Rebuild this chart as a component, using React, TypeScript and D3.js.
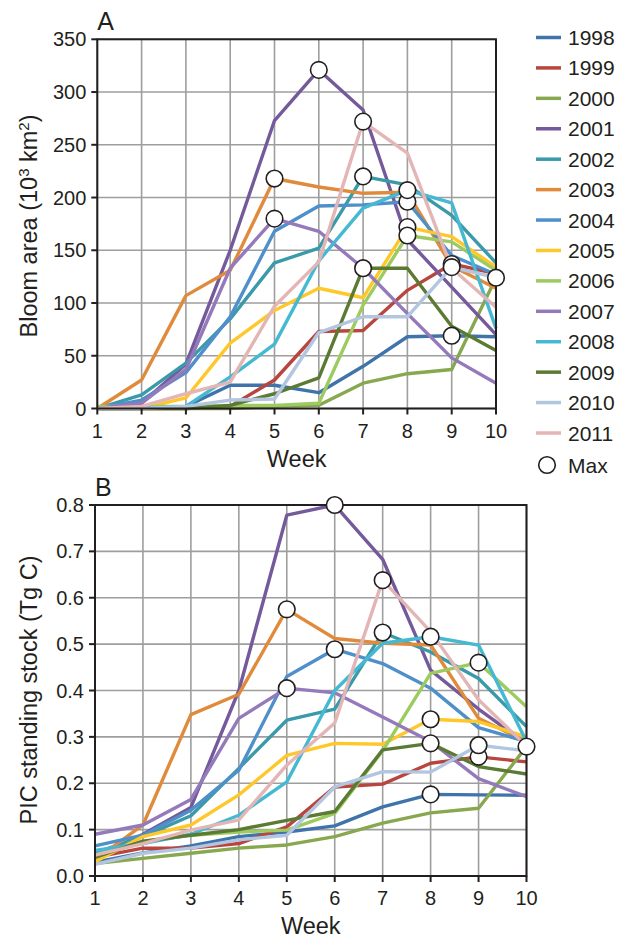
import React from "react";
import * as d3 from "d3";

const weeks = [1, 2, 3, 4, 5, 6, 7, 8, 9, 10];
const years = ["1998", "1999", "2000", "2001", "2002", "2003", "2004", "2005", "2006", "2007", "2008", "2009", "2010", "2011"];
const colors = ["#3f74aa", "#b9453f", "#87a84f", "#745a9b", "#3a9aa9", "#e08b3b", "#4f8fca", "#ffc82a", "#9dcb60", "#9479bb", "#45b9d2", "#5b7a33", "#b3c6df", "#e3b6b5"];

// Panel A: bloom area (10^3 km^2)
const bloom1998 = [0, 0, 2, 22, 22, 15, 40, 68, 69, 68];
const bloom1999 = [0, 0, 0, 2, 27, 73, 74, 112, 137, 128];
const bloom2000 = [0, 0, 0, 0, 2, 3, 24, 33, 37, 124];
const bloom2001 = [0, 5, 42, 150, 273, 321, 283, 160, 115, 70];
const bloom2002 = [0, 13, 43, 85, 138, 152, 220, 212, 183, 138];
const bloom2003 = [0, 27, 107, 131, 218, 210, 204, 205, 135, 114];
const bloom2004 = [0, 8, 34, 87, 168, 192, 193, 196, 145, 127];
const bloom2005 = [0, 0, 10, 62, 93, 114, 105, 172, 163, 134];
const bloom2006 = [2, 2, 2, 3, 3, 5, 98, 164, 158, 131];
const bloom2007 = [0, 5, 37, 133, 180, 168, 133, 90, 48, 24];
const bloom2008 = [0, 0, 2, 30, 61, 140, 190, 207, 195, 76];
const bloom2009 = [0, 0, 0, 3, 14, 29, 133, 133, 78, 55];
const bloom2010 = [0, 0, 2, 8, 9, 72, 87, 87, 134, 124];
const bloom2011 = [0, 2, 14, 25, 97, 139, 272, 242, 133, 96];

// Panel B: PIC standing stock (Tg C)
const pic1998 = [0.03, 0.05, 0.065, 0.085, 0.095, 0.108, 0.149, 0.176, 0.175, 0.174];
const pic1999 = [0.04, 0.06, 0.06, 0.07, 0.106, 0.192, 0.198, 0.243, 0.257, 0.246];
const pic2000 = [0.027, 0.038, 0.049, 0.06, 0.067, 0.085, 0.114, 0.136, 0.146, 0.279];
const pic2001 = [0.04, 0.09, 0.148, 0.4, 0.778, 0.8, 0.683, 0.444, 0.36, 0.285];
const pic2002 = [0.05, 0.085, 0.13, 0.232, 0.336, 0.36, 0.525, 0.483, 0.426, 0.322];
const pic2003 = [0.035, 0.11, 0.348, 0.392, 0.575, 0.512, 0.502, 0.498, 0.34, 0.29];
const pic2004 = [0.065, 0.088, 0.142, 0.228, 0.43, 0.489, 0.458, 0.405, 0.32, 0.29];
const pic2005 = [0.031, 0.085, 0.11, 0.175, 0.26, 0.286, 0.284, 0.338, 0.333, 0.3];
const pic2006 = [0.045, 0.074, 0.088, 0.095, 0.099, 0.135, 0.27, 0.437, 0.46, 0.365];
const pic2007 = [0.09, 0.11, 0.165, 0.34, 0.405, 0.395, 0.343, 0.29, 0.21, 0.171];
const pic2008 = [0.055, 0.07, 0.09, 0.131, 0.203, 0.4, 0.502, 0.516, 0.498, 0.29];
const pic2009 = [0.04, 0.075, 0.088, 0.1, 0.12, 0.139, 0.272, 0.286, 0.236, 0.22];
const pic2010 = [0.025, 0.049, 0.06, 0.078, 0.088, 0.192, 0.225, 0.224, 0.282, 0.27];
const pic2011 = [0.045, 0.07, 0.099, 0.121, 0.239, 0.33, 0.638, 0.527, 0.38, 0.28];

const bloomSeries = [bloom1998, bloom1999, bloom2000, bloom2001, bloom2002, bloom2003, bloom2004, bloom2005, bloom2006, bloom2007, bloom2008, bloom2009, bloom2010, bloom2011];
const picSeries = [pic1998, pic1999, pic2000, pic2001, pic2002, pic2003, pic2004, pic2005, pic2006, pic2007, pic2008, pic2009, pic2010, pic2011];

const bloomTicks = [0, 50, 100, 150, 200, 250, 300, 350];
const picTicks = [0, 0.1, 0.2, 0.3, 0.4, 0.5, 0.6, 0.7, 0.8];

const FONT = "'Liberation Sans', Arial, Helvetica, sans-serif";
const INK = "#231f20";
const GRID = "#9e9e9e";

type PanelProps = {
  left: number; right: number; top: number; bottom: number;
  yMax: number; yTicks: number[]; fmt: (v: number) => string;
  series: number[][]; letter: string; yTitle: React.ReactNode; yTitleY: number;
};

function Panel(p: PanelProps) {
  const x = d3.scaleLinear().domain([1, 10]).range([p.left, p.right]);
  const y = d3.scaleLinear().domain([0, p.yMax]).range([p.bottom, p.top]);
  const line = d3.line<number>().x((_, i) => x(weeks[i])).y((v) => y(v));
  return (
    <g>
      {weeks.map((w) => (
        <line key={"gx" + w} x1={x(w)} x2={x(w)} y1={p.top} y2={p.bottom} stroke={GRID} strokeWidth={1.6} />
      ))}
      {p.yTicks.map((t) => (
        <line key={"gy" + t} x1={p.left} x2={p.right} y1={y(t)} y2={y(t)} stroke={GRID} strokeWidth={1.6} />
      ))}
      {p.series.map((s, i) => (
        <path key={"l" + i} d={line(s) || ""} fill="none" stroke={colors[i]} strokeWidth={3.4} strokeLinejoin="round" />
      ))}
      <rect x={p.left} y={p.top} width={p.right - p.left} height={p.bottom - p.top} fill="none" stroke={INK} strokeWidth={2} />
      {p.yTicks.map((t) => (
        <g key={"ty" + t}>
          <line x1={p.left - 6} x2={p.left} y1={y(t)} y2={y(t)} stroke={INK} strokeWidth={2} />
          <text x={p.left - 11} y={y(t) + 7} textAnchor="end" fontSize={20} fill={INK} fontFamily={FONT}>{p.fmt(t)}</text>
        </g>
      ))}
      {weeks.map((w) => (
        <g key={"tx" + w}>
          <line x1={x(w)} x2={x(w)} y1={p.bottom} y2={p.bottom + 6} stroke={INK} strokeWidth={2} />
          <text x={x(w)} y={p.bottom + 29} textAnchor="middle" fontSize={20} fill={INK} fontFamily={FONT}>{w}</text>
        </g>
      ))}
      <text x={(p.left + p.right) / 2} y={p.bottom + 58} textAnchor="middle" fontSize={23.5} fill={INK} fontFamily={FONT}>Week</text>
      <text x={p.left} y={p.top - 9} fontSize={25} fill={INK} fontFamily={FONT}>{p.letter}</text>
      <text transform={`translate(37, ${p.yTitleY}) rotate(-90)`} textAnchor="middle" fontSize={23.5} fill={INK} fontFamily={FONT}>{p.yTitle}</text>
      {p.series.map((s, i) => {
        const idx = d3.maxIndex(s);
        return <circle key={"m" + i} cx={x(weeks[idx])} cy={y(s[idx])} r={8.3} fill="#fff" stroke={INK} strokeWidth={1.6} />;
      })}
    </g>
  );
}

export default function App() {
  const legendY = d3.scaleLinear().domain([0, 13]).range([37.5, 433]);
  return (
    <svg width={627} height={939} style={{ position: "absolute", left: 0, top: 0, background: "#fff" }}>
      <rect x={0} y={0} width={627} height={939} fill="#fff" />
      <Panel left={97.3} right={496} top={39.3} bottom={408.5} yMax={350} yTicks={bloomTicks} fmt={(v) => String(v)}
        series={bloomSeries} letter="A" yTitleY={226}
        yTitle={<>Bloom area (10<tspan dy={-8.5} fontSize={15}>3</tspan><tspan dy={8.5}> km</tspan><tspan dy={-8.5} fontSize={15}>2</tspan><tspan dy={8.5}>)</tspan></>} />
      <Panel left={95} right={526.5} top={505} bottom={876} yMax={0.8} yTicks={picTicks} fmt={d3.format(".1f")}
        series={picSeries} letter="B" yTitleY={690}
        yTitle={<>PIC standing stock (Tg C)</>} />
      {years.map((yr, i) => (
        <g key={"lg" + yr}>
          <line x1={536} x2={561} y1={legendY(i)} y2={legendY(i)} stroke={colors[i]} strokeWidth={3.5} />
          <text x={568} y={legendY(i) + 7.5} fontSize={21} fill={INK} fontFamily={FONT}>{yr}</text>
        </g>
      ))}
      <circle cx={547} cy={465} r={8.3} fill="#fff" stroke={INK} strokeWidth={1.6} />
      <text x={568} y={472.5} fontSize={21} fill={INK} fontFamily={FONT}>Max</text>
    </svg>
  );
}
